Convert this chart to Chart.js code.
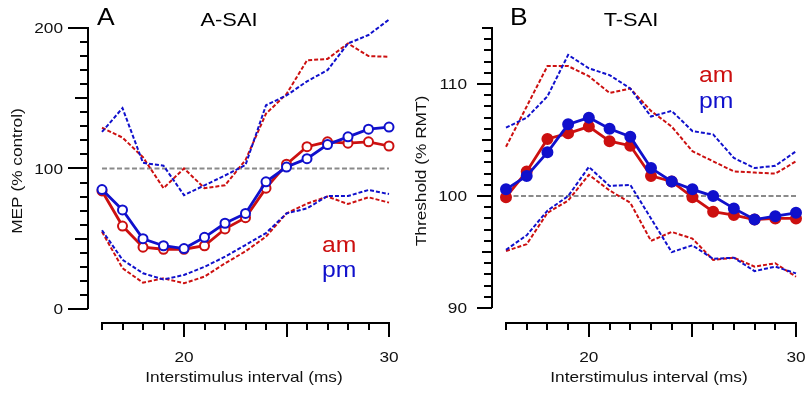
<!DOCTYPE html>
<html>
<head>
<meta charset="utf-8">
<script src="https://cdn.jsdelivr.net/npm/chart.js@4"></script>
<style>
  body { margin: 0; background: #fff; }
  #wrap { position: relative; width: 805px; height: 399px; overflow: hidden; }
  canvas { position: absolute; top: 0; }
</style>
</head>
<body>
<div id="wrap">
  <canvas id="panelA" width="402" height="399" style="left:0px"></canvas>
  <canvas id="panelB" width="403" height="399" style="left:402px"></canvas>
</div>
<script>
// interstimulus intervals (ms)
const isi = [16, 17, 18, 19, 20, 21, 22, 23, 24, 25, 26, 27, 28, 29, 30];

// A: A-SAI, MEP (% control)
const amMeanA  = [84, 59, 44, 42.5, 42.5, 45, 57, 65, 86, 103, 115.5, 119, 118, 119, 116];
const pmMeanA  = [85, 70.5, 50, 45, 43, 51, 61, 68, 90.5, 101, 107, 117, 122.5, 128, 129.5];
const amUpperA = [129, 122, 108, 86, 100, 86, 88, 106, 139, 153, 177, 178, 189, 180, 179.5];
const pmUpperA = [126, 143, 104, 102, 81, 88, 95, 102.5, 145, 152, 162, 170, 189, 195, 206];
const amLowerA = [55, 29, 18.7, 21.8, 18.3, 23, 32.5, 41, 51.5, 68, 75, 80, 74.7, 79.5, 75.7];
const pmLowerA = [56, 35, 25.4, 21, 24.2, 30, 37.2, 45.5, 54, 68, 71.6, 80.4, 80.4, 84.7, 81.8];

// B: T-SAI, threshold (% RMT)
const amMeanB  = [99.9, 102.2, 105.1, 105.6, 106.2, 104.9, 104.5, 101.8, 101.3, 99.9, 98.6, 98.3, 97.9, 98.0, 98.0];
const pmMeanB  = [100.6, 101.8, 103.9, 106.4, 107.0, 106.0, 105.3, 102.5, 101.3, 100.6, 100.0, 98.9, 97.9, 98.2, 98.5];
const amUpperB = [104.4, 108, 111.6, 111.6, 110.7, 109.2, 109.6, 107.6, 106.2, 104, 103.1, 102.2, 102.1, 102, 103.1];
const pmUpperB = [106.1, 107, 108.9, 112.6, 111.4, 110.8, 109.6, 107.1, 107.6, 105.8, 105.5, 103.4, 102.5, 102.7, 104];
const amLowerB = [95.1, 95.7, 98.5, 99.6, 101.9, 100.5, 99.4, 96.0, 96.8, 96.2, 94.3, 94.5, 93.7, 94.0, 92.8];
const pmLowerB = [95.2, 96.5, 98.7, 100.0, 102.6, 100.9, 101.0, 98.0, 95.0, 95.6, 94.4, 94.5, 93.3, 93.7, 93.1];

const refLevel = 100;

const RED = '#cc1010';
const BLUE = '#1010cc';
const FONT = '"Liberation Sans", Arial, sans-serif';
const HS = 1.15; // glyphs in the figure are drawn wider than Arial

function pts(ys) {
  return ys.map((y, i) => ({ x: isi[i], y: y }));
}

function txt(ctx, s, x, y, size, color, align, baseline, rot) {
  ctx.save();
  ctx.translate(x, y);
  if (rot) ctx.rotate(rot);
  ctx.scale(HS, 1);
  ctx.font = size + 'px ' + FONT;
  ctx.fillStyle = color;
  ctx.textAlign = align;
  ctx.textBaseline = baseline;
  ctx.fillText(s, 0, 0);
  ctx.restore();
}

// axes, ticks and labels drawn from the chart's own scales
const axesPlugin = {
  id: 'axes',
  beforeDatasetsDraw(chart, args, o) {
    const ctx = chart.ctx;
    const xs = chart.scales.x, ys = chart.scales.y;
    const area = chart.chartArea;
    const ax = area.left - 14;
    ctx.save();
    ctx.strokeStyle = '#000';
    ctx.lineWidth = 2;
    ctx.lineCap = 'butt';

    // y axis
    ctx.beginPath();
    ctx.moveTo(ax, ys.getPixelForValue(o.yFrom));
    ctx.lineTo(ax, ys.getPixelForValue(o.yTo) - 1);
    ctx.stroke();
    for (let v = o.yFrom; v <= o.yTo + 1e-6; v += o.yStep) {
      const py = Math.round(ys.getPixelForValue(v));
      let len = 8;
      if (v % o.yMajor === 0) len = o.majorLen;
      else if (v % o.yMid === 0) len = o.midLen;
      ctx.beginPath();
      ctx.moveTo(ax, py);
      ctx.lineTo(ax - len, py);
      ctx.stroke();
    }
    o.yLabels.forEach(v => {
      txt(ctx, String(v), ax - 25, ys.getPixelForValue(v) + 1, 15, '#111', 'right', 'middle');
    });

    // x axis
    const by = area.bottom;
    ctx.beginPath();
    ctx.moveTo(xs.getPixelForValue(16) - 1, by);
    ctx.lineTo(xs.getPixelForValue(30) + 1, by);
    ctx.stroke();
    isi.forEach(v => {
      const px = Math.round(xs.getPixelForValue(v));
      const len = v % 5 === 0 ? 14 : 7;
      ctx.beginPath();
      ctx.moveTo(px, by);
      ctx.lineTo(px, by + len);
      ctx.stroke();
    });
    [20, 30].forEach(v => {
      txt(ctx, String(v), xs.getPixelForValue(v), 358, 15, '#111', 'center', 'middle');
    });

    // titles
    txt(ctx, 'Interstimulus interval (ms)', o.xTitleX, 378, 15, '#111', 'center', 'middle');
    txt(ctx, o.yTitle, o.yTitleX, 171, 15, '#111', 'center', 'middle', -Math.PI / 2);
    txt(ctx, o.letter, o.letterX, 19, 23, '#000', 'left', 'middle');
    txt(ctx, o.title, o.titleX, 21, 19, '#000', 'center', 'middle');
    txt(ctx, 'am', o.legX, o.amY, 21.5, RED, 'left', 'alphabetic');
    txt(ctx, 'pm', o.legX, o.pmY, 21.5, BLUE, 'left', 'alphabetic');
    ctx.restore();
  }
};

function makeDatasets(am, pm, amU, pmU, amL, pmL, filled) {
  const dash = (data, color, order) => ({
    data: pts(data), borderColor: color, borderWidth: 2, borderDash: [4, 2],
    pointRadius: 0, fill: false, tension: 0, clip: false, order: order
  });
  const mean = (data, color, order) => ({
    data: pts(data), borderColor: color, borderWidth: 2.8,
    pointRadius: filled ? 5 : 4.5, pointBorderWidth: 2,
    pointBackgroundColor: filled ? color : '#fff', pointBorderColor: color,
    fill: false, tension: 0, clip: false, order: order
  });
  return [
    mean(pm, BLUE, 1),
    mean(am, RED, 2),
    dash(pmU, BLUE, 3),
    dash(amU, RED, 4),
    dash(pmL, BLUE, 5),
    dash(amL, RED, 6),
    {
      data: [{ x: 16, y: refLevel }, { x: 30, y: refLevel }],
      borderColor: '#8a8a8a', borderWidth: 2, borderDash: [5, 2.5],
      pointRadius: 0, fill: false, clip: false, order: 7
    }
  ];
}

function makeChart(id, datasets, yMin, yMax, padding, axesOpts) {
  return new Chart(document.getElementById(id), {
    type: 'line',
    data: { datasets: datasets },
    options: {
      responsive: false,
      devicePixelRatio: 1,
      animation: false,
      layout: { padding: padding },
      scales: {
        x: { type: 'linear', min: 16, max: 30, display: false },
        y: { type: 'linear', min: yMin, max: yMax, display: false }
      },
      plugins: {
        legend: { display: false },
        tooltip: { enabled: false },
        axes: axesOpts
      }
    },
    plugins: [axesPlugin]
  });
}

makeChart('panelA',
  makeDatasets(amMeanA, pmMeanA, amUpperA, pmUpperA, amLowerA, pmLowerA, false),
  -10, 200,
  { left: 102, right: 13, top: 28, bottom: 76 },
  {
    yFrom: 0, yTo: 200, yStep: 10, yMid: 50, yMajor: 100, midLen: 13, majorLen: 20,
    yLabels: [0, 100, 200], yTitle: 'MEP (% control)', yTitleX: 18,
    xTitleX: 244, letter: 'A', letterX: 97, title: 'A-SAI', titleX: 229,
    legX: 322, amY: 252, pmY: 277
  });

makeChart('panelB',
  makeDatasets(amMeanB, pmMeanB, amUpperB, pmUpperB, amLowerB, pmLowerB, true),
  88.67, 115,
  { left: 104, right: 9, top: 28, bottom: 76 },
  {
    yFrom: 90, yTo: 115, yStep: 1, yMid: 5, yMajor: 10, midLen: 10, majorLen: 15,
    yLabels: [90, 100, 110], yTitle: 'Threshold (% RMT)', yTitleX: 20,
    xTitleX: 247, letter: 'B', letterX: 108, title: 'T-SAI', titleX: 229,
    legX: 297, amY: 82, pmY: 108
  });
</script>
</body>
</html>
